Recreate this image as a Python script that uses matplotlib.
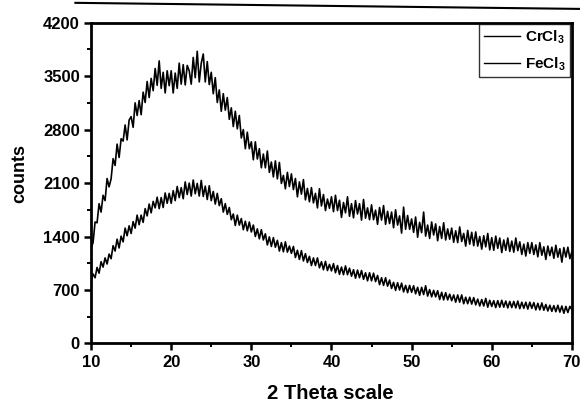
import matplotlib
matplotlib.use("Agg")
import matplotlib.pyplot as plt
from matplotlib.lines import Line2D
import numpy as np

plt.rcParams['font.family'] = ['Liberation Sans', 'DejaVu Sans']
plt.rcParams['font.weight'] = 'bold'
plt.rcParams['mathtext.fontset'] = 'custom'
plt.rcParams['mathtext.bf'] = 'Liberation Sans:bold'
plt.rcParams['mathtext.rm'] = 'Liberation Sans:bold'

# 2-theta grid, 0.25 deg steps from 10 to 70
two_theta = np.arange(241) * 0.25 + 10

# CrCl3 counts (upper trace)
crcl3 = [
    1250, 1320, 1590, 1580, 1830, 1720, 1940, 1870, 2160, 2050,
    2155, 2420, 2330, 2610, 2435, 2680, 2650, 2860, 2665, 2925,
    2970, 2830, 3150, 2985, 3180, 2995, 3290, 3155, 3430, 3220,
    3470, 3310, 3600, 3380, 3700, 3340, 3550, 3280, 3570, 3375,
    3570, 3280, 3540, 3340, 3670, 3395, 3650, 3385, 3640, 3570,
    3395, 3745, 3480, 3825, 3425, 3670, 3790, 3425, 3690, 3390,
    3550, 3270, 3480, 3155, 3320, 3040, 3270, 3055, 3220, 2935,
    3085, 2840, 3040, 2810, 2985, 2690, 2800, 2550, 2765, 2550,
    2640, 2405, 2640, 2415, 2550, 2300, 2480, 2300, 2520, 2240,
    2375, 2180, 2390, 2155, 2370, 2095, 2200, 2025, 2240, 2055,
    2220, 2015, 2160, 1920, 2115, 1955, 2145, 1880, 2030, 1855,
    2040, 1840, 1965, 1775, 2025, 1800, 1950, 1740, 1890, 1770,
    1920, 1725, 1940, 1740, 1875, 1650, 1845, 1710, 1920, 1665,
    1830, 1645, 1870, 1695, 1830, 1615, 1885, 1640, 1775, 1620,
    1815, 1620, 1745, 1560, 1780, 1615, 1805, 1560, 1730, 1570,
    1720, 1515, 1750, 1550, 1670, 1445, 1785, 1495, 1675, 1495,
    1630, 1455, 1655, 1390, 1585, 1450, 1720, 1405, 1550, 1375,
    1590, 1420, 1565, 1345, 1530, 1375, 1580, 1355, 1500, 1365,
    1510, 1325, 1475, 1320, 1525, 1335, 1440, 1275, 1480, 1300,
    1455, 1280, 1460, 1275, 1400, 1235, 1410, 1265, 1440, 1225,
    1385, 1220, 1405, 1245, 1380, 1190, 1355, 1220, 1380, 1205,
    1340, 1195, 1380, 1215, 1330, 1165, 1300, 1145, 1320, 1180,
    1320, 1165, 1290, 1135, 1320, 1155, 1265, 1100, 1275, 1150,
    1260, 1115, 1285, 1130, 1240, 1065, 1255, 1130, 1260, 1110,
    1200,
]

# FeCl3 counts (lower trace)
fecl3 = [
    820, 910, 860, 995, 920, 1070, 1000, 1120, 1040, 1170,
    1110, 1280, 1210, 1365, 1250, 1405, 1330, 1510, 1410, 1540,
    1440, 1595, 1510, 1680, 1555, 1680, 1585, 1765, 1670, 1825,
    1710, 1860, 1775, 1915, 1765, 1910, 1780, 1970, 1835, 1965,
    1835, 2000, 1870, 2055, 1910, 2040, 1895, 2115, 1950, 2100,
    1930, 2140, 1960, 2095, 1930, 2135, 1925, 2060, 1885, 2065,
    1870, 1990, 1825, 1965, 1805, 1895, 1720, 1830, 1690, 1780,
    1620, 1695, 1545, 1680, 1550, 1635, 1490, 1600, 1475, 1590,
    1460, 1550, 1400, 1500, 1370, 1490, 1355, 1435, 1290, 1395,
    1270, 1385, 1260, 1350, 1210, 1320, 1200, 1330, 1195, 1275,
    1180, 1270, 1125, 1220, 1100, 1215, 1080, 1175, 1060, 1140,
    1020, 1120, 1020, 1120, 990, 1070, 965, 1075, 955, 1035,
    950, 1045, 925, 1020, 905, 1000, 900, 1015, 900, 985,
    880, 965, 855, 960, 860, 955, 840, 925, 820, 925,
    820, 920, 810, 890, 770, 860, 760, 860, 750, 830,
    720, 800, 695, 795, 700, 790, 675, 760, 665, 760,
    670, 755, 650, 735, 630, 735, 640, 755, 620, 705,
    610, 695, 610, 690, 575, 670, 570, 665, 570, 645,
    560, 635, 540, 635, 540, 635, 520, 605, 520, 605,
    515, 600, 505, 580, 490, 575, 490, 590, 475, 565,
    485, 560, 470, 560, 475, 565, 475, 555, 465, 550,
    470, 550, 465, 555, 455, 540, 460, 540, 450, 540,
    460, 535, 440, 525, 440, 530, 435, 510, 425, 500,
    420, 495, 415, 500, 410, 490, 395, 485, 405, 485,
    445,
]

x_ticks = [10, 20, 30, 40, 50, 60, 70]
y_ticks = [0, 700, 1400, 2100, 2800, 3500, 4200]

fig = plt.figure(figsize=(5.8, 4.05), dpi=100)
ax = fig.add_axes([0.157, 0.152, 0.829, 0.792])

ax.plot(two_theta, crcl3, color='black', lw=1.2, label=r'CrCl$_\mathbf{3}$')
ax.plot(two_theta, fecl3, color='black', lw=1.2, label=r'FeCl$_\mathbf{3}$')

ax.set_xlim(10, 70)
ax.set_ylim(0, 4200)
ax.set_xticks(x_ticks)
ax.set_yticks(y_ticks)
ax.set_xticks(np.arange(15, 70, 10), minor=True)
ax.set_yticks(np.arange(350, 4200, 700), minor=True)
ax.tick_params(which='major', direction='out', length=5, width=1.8, labelsize=12, pad=3)
ax.tick_params(which='minor', direction='out', length=3, width=1.4)
for s in ax.spines.values():
    s.set_linewidth(2.0)

ax.set_xlabel('2 Theta scale', fontsize=14.5, fontweight='bold')
ax.xaxis.set_label_coords(0.497, -0.125)
ax.set_ylabel('counts', fontsize=13, fontweight='bold')
ax.yaxis.set_label_coords(-0.13, 0.53)

leg = ax.legend(loc='upper right', fontsize=11, handlelength=2.4, frameon=True,
                fancybox=False, edgecolor='black', borderaxespad=0.1,
                borderpad=0.3, labelspacing=0.55, handletextpad=0.3)
leg.get_frame().set_linewidth(1.0)
for h in leg.get_lines():
    h.set_linewidth(1.0)

# edge of the page above the frame in the scan
fig.add_artist(Line2D([0.13, 1.0], [0.993, 0.978], color='black', lw=1.5))

fig.savefig('out.png', dpi=100)
